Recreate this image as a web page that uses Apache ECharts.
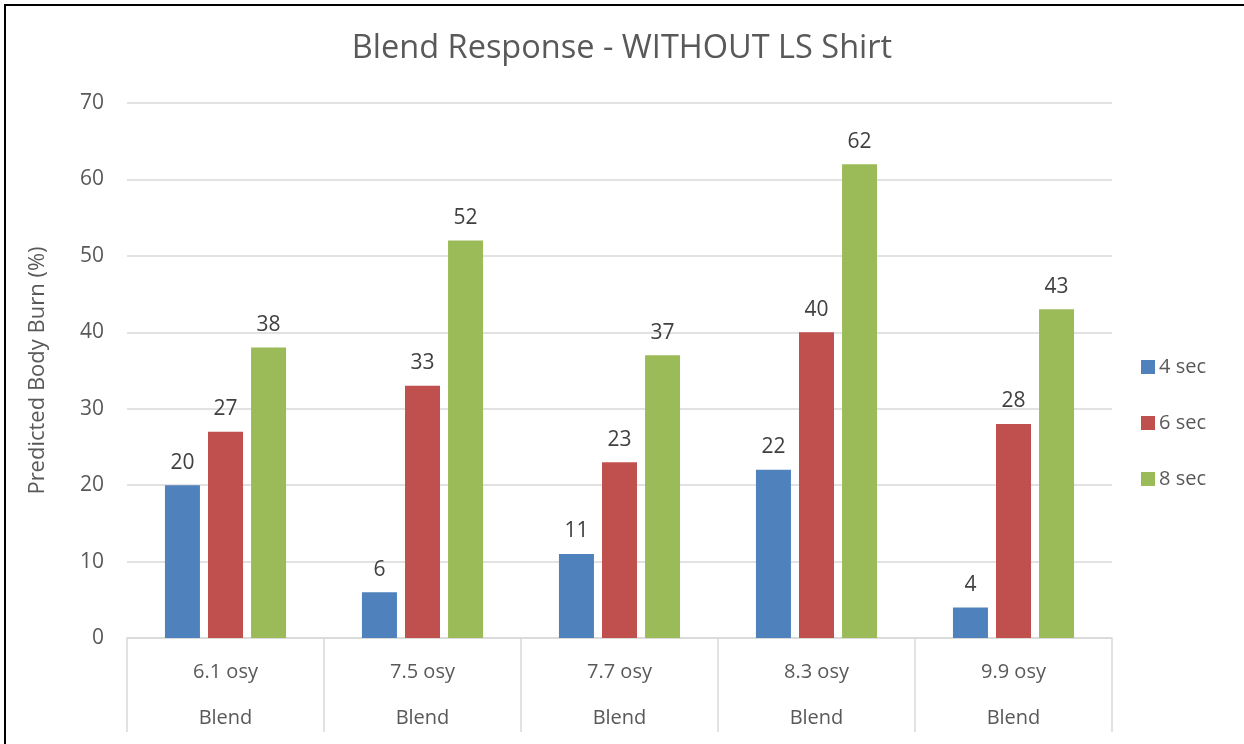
<!DOCTYPE html>
<html>
<head>
<meta charset="utf-8">
<script src="https://cdn.jsdelivr.net/npm/echarts@6/dist/echarts.min.js"></script>
<style>
  html, body { margin: 0; padding: 0; background: #fff; }
  #chart { width: 1244px; height: 744px; }
</style>
</head>
<body>
<div id="chart"></div>
<script>
// Fabric weights (first label row) and fabric type (second label row)
const weights = ['6.1 osy', '7.5 osy', '7.7 osy', '8.3 osy', '9.9 osy'];
const fabric = ['Blend', 'Blend', 'Blend', 'Blend', 'Blend'];

// Predicted body burn (%) for each exposure time
const sec4 = [20, 6, 11, 22, 4];
const sec6 = [27, 33, 23, 40, 28];
const sec8 = [38, 52, 37, 62, 43];

const seriesNames = ['4 sec', '6 sec', '8 sec'];
const seriesColors = ['#4f81bd', '#c0504d', '#9bbb59'];

const FONT = '"Open Sans", sans-serif';
const TEXT = '#595959';
const GRID = '#d9d9d9';

const categories = weights.map((w, i) => w + '\n' + fabric[i]);

const chart = echarts.init(document.getElementById('chart'));

const makeSeries = (name, data, color) => ({
  name: name,
  type: 'bar',
  data: data,
  barWidth: 35,
  barGap: '23%',
  itemStyle: { color: color },
  label: {
    show: true,
    position: 'top',
    distance: 12,
    color: '#404040',
    fontFamily: FONT,
    fontSize: 21
  }
});

chart.setOption({
  animation: false,
  backgroundColor: '#fff',
  textStyle: { fontFamily: FONT },
  title: {
    text: 'Blend Response - WITHOUT LS Shirt',
    left: 'center',
    top: 27,
    textStyle: { fontFamily: FONT, fontSize: 32.5, fontWeight: 'normal', color: TEXT }
  },
  legend: {
    orient: 'vertical',
    left: 1136,
    top: 352,
    itemWidth: 14,
    itemHeight: 14,
    itemGap: 36,
    icon: 'rect',
    textStyle: { fontFamily: FONT, fontSize: 20, color: TEXT, padding: [0, 0, 0, -1] },
    data: seriesNames
  },
  grid: { left: 127, right: 132, top: 103, bottom: 106, containLabel: false },
  xAxis: {
    type: 'category',
    data: categories,
    axisLine: { show: true, lineStyle: { color: GRID, width: 1.5 } },
    axisTick: { show: true, length: 94, lineStyle: { color: GRID, width: 1.5 } },
    axisLabel: {
      margin: 11,
      interval: 0,
      color: TEXT,
      fontFamily: FONT,
      fontSize: 20,
      lineHeight: 46
    }
  },
  yAxis: {
    type: 'value',
    min: 0,
    max: 70,
    interval: 10,
    name: 'Predicted Body Burn (%)',
    nameLocation: 'middle',
    nameGap: 78,
    nameTextStyle: { fontFamily: FONT, fontSize: 22, color: TEXT },
    axisLine: { show: false },
    axisTick: { show: false },
    axisLabel: { margin: 23, color: TEXT, fontFamily: FONT, fontSize: 21 },
    splitLine: { lineStyle: { color: GRID, width: 1.5 } }
  },
  series: [
    makeSeries(seriesNames[0], sec4, seriesColors[0]),
    makeSeries(seriesNames[1], sec6, seriesColors[1]),
    makeSeries(seriesNames[2], sec8, seriesColors[2])
  ],
  graphic: [
    { type: 'line', shape: { x1: 4, y1: 5, x2: 1244, y2: 5 }, style: { stroke: '#000', lineWidth: 2 } },
    { type: 'line', shape: { x1: 5, y1: 4, x2: 5, y2: 744 }, style: { stroke: '#000', lineWidth: 2 } }
  ]
});
</script>
</body>
</html>
